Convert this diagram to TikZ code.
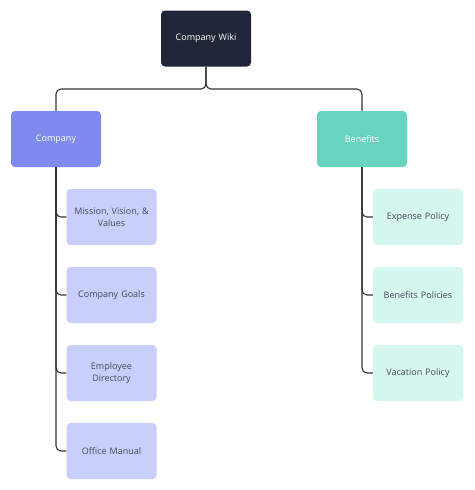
\documentclass[tikz,border=0pt]{standalone}
\usepackage{fontspec}
\setmainfont{Open Sans}
\begin{document}
\begin{tikzpicture}[x=1pt,y=-1pt,
  box/.style={draw=none,rounded corners=4pt,minimum width=90pt,minimum height=56pt,inner sep=2pt,align=center,font=\fontsize{9}{12}\selectfont,text width=86pt},
  rootbox/.style={box,fill=rootc,text=white},
  compbox/.style={box,fill=compc,text=white},
  benbox/.style={box,fill=benc,text=white},
  lchild/.style={box,fill=lchildc,text=textc,minimum width=89pt},
  rchild/.style={box,fill=rchildc,text=textc},
  conn/.style={draw=linec,line width=1.1pt,rounded corners=5pt}]
\definecolor{rootc}{HTML}{1F2637}
\definecolor{compc}{HTML}{7F8AEF}
\definecolor{benc}{HTML}{68D3C0}
\definecolor{lchildc}{HTML}{C9CFFA}
\definecolor{rchildc}{HTML}{D6F7EF}
\definecolor{textc}{HTML}{454B5A}
\definecolor{linec}{HTML}{333333}
\useasboundingbox (0,0) rectangle (474,490);
\fill[white] (0,0) rectangle (474,490);
\node[rootbox] (root) at (206,38.5) {Company Wiki};
\node[compbox] (comp) at (56,139) {Company};
\node[benbox] (ben) at (362,139) {Benefits};
\node[lchild] (mis) at (111.5,217) {Mission, Vision, \&\\Values};
\node[lchild] (goal) at (111.5,295) {Company Goals};
\node[lchild] (emp) at (111.5,373) {Employee\\Directory};
\node[lchild] (off) at (111.5,451) {Office Manual};
\node[rchild] (exp) at (418,217) {Expense Policy};
\node[rchild] (bpol) at (418,295) {Benefits Policies};
\node[rchild] (vac) at (418,373) {Vacation Policy};
\draw[conn] (root.south) -- (206,89) -| (comp.north);
\draw[conn] (root.south) -- (206,89) -| (ben.north);
\foreach \c in {mis,goal,emp,off}{
  \draw[conn] (comp.south) |- (\c.west);
}
\foreach \c in {exp,bpol,vac}{
  \draw[conn] (ben.south) |- (\c.west);
}
\end{tikzpicture}
\end{document}
